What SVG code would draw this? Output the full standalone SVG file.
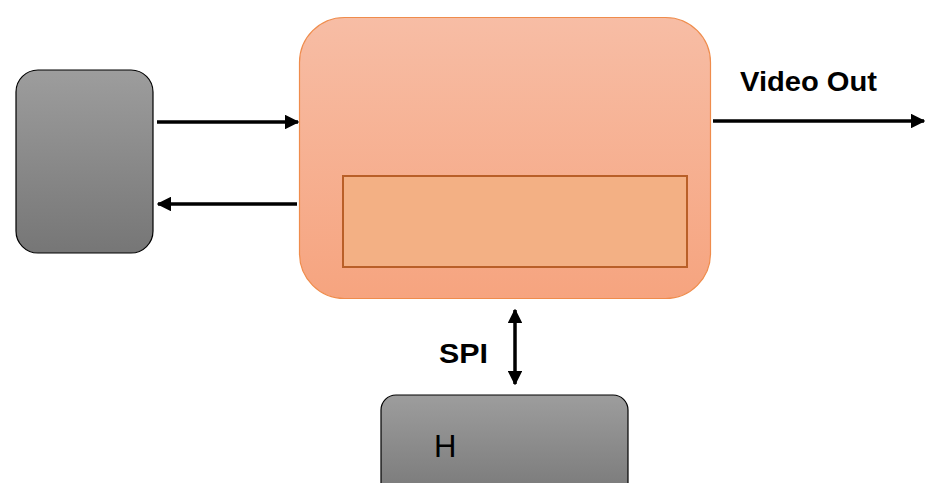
<svg xmlns="http://www.w3.org/2000/svg" width="925" height="483" viewBox="0 0 925 483">
<style>
.gray{stroke:#000;stroke-width:1.2}
.conn{stroke:#000;stroke-width:3.5;fill:none}
.lbl{font-family:"Liberation Sans",Arial,sans-serif;fill:#000}
</style>
<defs>
<linearGradient id="gg" x1="0" y1="0" x2="0" y2="1"><stop offset="0" stop-color="#9d9d9d"/><stop offset="1" stop-color="#767676"/></linearGradient>
<linearGradient id="og" x1="0" y1="0" x2="0" y2="1"><stop offset="0" stop-color="#f7bda5"/><stop offset="1" stop-color="#f6a47f"/></linearGradient>
<marker id="ah" viewBox="0 0 10 10" refX="9" refY="5" markerWidth="4.2" markerHeight="4.2" orient="auto-start-reverse"><path d="M0,0 L10,5 L0,10 z" fill="#000"/></marker>
</defs>
<g id="left-box"><rect x="16" y="70" width="137" height="183" rx="22" fill="url(#gg)" class="gray"/></g>
<g id="main-box">
<rect x="299.5" y="17.5" width="411" height="281" rx="45" fill="url(#og)" stroke="#ef8c4c" stroke-width="1.2"/>
<rect x="343" y="176" width="344" height="91" fill="#f3b084" stroke="#b95f28" stroke-width="2"/>
</g>
<g id="h-box"><rect x="381" y="395" width="247" height="110" rx="15" fill="url(#gg)" class="gray"/>
<text x="434" y="457" class="lbl" font-size="31">H</text></g>
<g id="connectors">
<line x1="157" y1="122" x2="298" y2="122" class="conn" marker-end="url(#ah)"/>
<line x1="297" y1="204" x2="158" y2="204" class="conn" marker-end="url(#ah)"/>
<line x1="713" y1="121" x2="924" y2="121" class="conn" marker-end="url(#ah)"/>
<line x1="515" y1="310" x2="515" y2="384" class="conn" marker-start="url(#ah)" marker-end="url(#ah)"/>
</g>
<text x="740" y="90.5" class="lbl" font-size="27" font-weight="bold" textLength="137" lengthAdjust="spacingAndGlyphs">Video Out</text>
<text x="439" y="363" class="lbl" font-size="28" font-weight="bold" textLength="49" lengthAdjust="spacingAndGlyphs">SPI</text>
</svg>
